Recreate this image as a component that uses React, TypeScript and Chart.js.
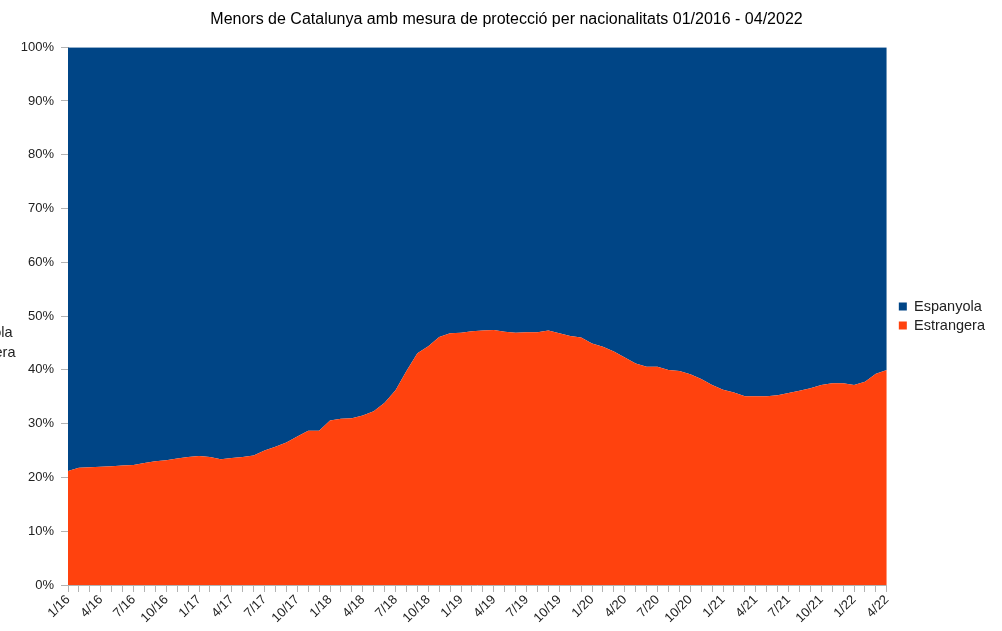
import React, { useEffect, useRef } from 'react';
import { Chart, registerables } from 'chart.js';

Chart.register(...registerables);

const chartTitle = 'Menors de Catalunya amb mesura de protecció per nacionalitats 01/2016 - 04/2022';

const categories = [
  '1/16', '2/16', '3/16', '4/16', '5/16', '6/16', '7/16', '8/16', '9/16', '10/16', '11/16', '12/16',
  '1/17', '2/17', '3/17', '4/17', '5/17', '6/17', '7/17', '8/17', '9/17', '10/17', '11/17', '12/17',
  '1/18', '2/18', '3/18', '4/18', '5/18', '6/18', '7/18', '8/18', '9/18', '10/18', '11/18', '12/18',
  '1/19', '2/19', '3/19', '4/19', '5/19', '6/19', '7/19', '8/19', '9/19', '10/19', '11/19', '12/19',
  '1/20', '2/20', '3/20', '4/20', '5/20', '6/20', '7/20', '8/20', '9/20', '10/20', '11/20', '12/20',
  '1/21', '2/21', '3/21', '4/21', '5/21', '6/21', '7/21', '8/21', '9/21', '10/21', '11/21', '12/21',
  '1/22', '2/22', '3/22', '4/22',
];

const seriesNames = ['Espanyola', 'Estrangera'];

// Share (%) of minors with foreign nationality
const estrangera = [
  21.2, 21.8, 21.9, 22.0, 22.1, 22.2, 22.3, 22.7, 23.0, 23.2, 23.5, 23.8,
  24.0, 23.8, 23.4, 23.6, 23.8, 24.1, 25.0, 25.7, 26.5, 27.6, 28.7, 28.7,
  30.6, 30.9, 31.0, 31.5, 32.3, 33.9, 36.2, 39.8, 43.1, 44.4, 46.1, 46.8,
  46.9, 47.2, 47.3, 47.4, 47.1, 46.9, 47.0, 47.0, 47.3, 46.8, 46.3, 46.0,
  44.9, 44.3, 43.4, 42.3, 41.2, 40.6, 40.6, 40.0, 39.8, 39.2, 38.3, 37.2,
  36.3, 35.8, 35.1, 35.1, 35.1, 35.3, 35.7, 36.1, 36.6, 37.2, 37.5, 37.5,
  37.2, 37.8, 39.3, 40.0,
];

// Share (%) of minors with Spanish nationality
const espanyola = [
  78.8, 78.2, 78.1, 78.0, 77.9, 77.8, 77.7, 77.3, 77.0, 76.8, 76.5, 76.2,
  76.0, 76.2, 76.6, 76.4, 76.2, 75.9, 75.0, 74.3, 73.5, 72.4, 71.3, 71.3,
  69.4, 69.1, 69.0, 68.5, 67.7, 66.1, 63.8, 60.2, 56.9, 55.6, 53.9, 53.2,
  53.1, 52.8, 52.7, 52.6, 52.9, 53.1, 53.0, 53.0, 52.7, 53.2, 53.7, 54.0,
  55.1, 55.7, 56.6, 57.7, 58.8, 59.4, 59.4, 60.0, 60.2, 60.8, 61.7, 62.8,
  63.7, 64.2, 64.9, 64.9, 64.9, 64.7, 64.3, 63.9, 63.4, 62.8, 62.5, 62.5,
  62.8, 62.2, 60.7, 60.0,
];

const yMin = 0;
const yMax = 100;
const yStep = 10;

const FONT = '"Liberation Sans", Arial, sans-serif';
const BLUE = '#004586';
const ORANGE = '#ff420e';
const AXIS_GRAY = '#b3b3b3';
const TEXT = '#222222';
const LEGEND_SIZE = 14.5;

// Clipped duplicate of the legend text visible at the very left edge of the reference
const ghostLegend = {
  id: 'ghostLegend',
  afterDraw(chart: any) {
    const ctx = chart.ctx as CanvasRenderingContext2D;
    ctx.save();
    ctx.font = `${LEGEND_SIZE}px ${FONT}`;
    ctx.fillStyle = TEXT;
    ctx.textAlign = 'right';
    ctx.textBaseline = 'alphabetic';
    ctx.fillText(seriesNames[0], 12.5, 337);
    ctx.fillText(seriesNames[1], 15.5, 357);
    ctx.restore();
  },
};

export default function App() {
  const canvasRef = useRef<HTMLCanvasElement | null>(null);

  useEffect(() => {
    if (!canvasRef.current) return;
    const chart = new Chart(canvasRef.current, {
      type: 'line',
      data: {
        labels: categories,
        datasets: [
          {
            label: seriesNames[1],
            data: estrangera,
            backgroundColor: ORANGE,
            borderColor: ORANGE,
            borderWidth: 0,
            fill: 'origin',
            pointRadius: 0,
            tension: 0,
          },
          {
            label: seriesNames[0],
            data: espanyola,
            backgroundColor: BLUE,
            borderColor: BLUE,
            borderWidth: 0,
            fill: '-1',
            pointRadius: 0,
            tension: 0,
          },
        ],
      },
      options: {
        animation: false,
        responsive: false,
        maintainAspectRatio: false,
        layout: { padding: { left: 18, right: 7, top: 0, bottom: 0 } },
        plugins: {
          title: {
            display: true,
            text: chartTitle,
            color: '#000000',
            font: { family: FONT, size: 16, weight: 'normal' },
            padding: { top: 10, bottom: 18 },
          },
          legend: {
            display: true,
            position: 'right',
            fullSize: false,
            reverse: true,
            labels: {
              boxWidth: 8,
              boxHeight: 8,
              padding: 4.5,
              color: TEXT,
              font: { family: FONT, size: LEGEND_SIZE },
            },
          },
          tooltip: { enabled: false },
        },
        scales: {
          x: {
            type: 'category',
            offset: false,
            grid: {
              display: true,
              drawOnChartArea: false,
              drawTicks: true,
              tickLength: 7,
              color: AXIS_GRAY,
            },
            border: { display: true, color: AXIS_GRAY },
            ticks: {
              autoSkip: false,
              minRotation: 45,
              maxRotation: 45,
              padding: 0,
              color: TEXT,
              font: { family: FONT, size: 13 },
              callback: (_v: any, idx: number) => (idx % 3 === 0 ? categories[idx] : ''),
            },
            afterFit: (s: any) => {
              s.height = 46;
            },
          },
          y: {
            type: 'linear',
            stacked: true,
            min: yMin,
            max: yMax,
            grid: {
              display: true,
              drawOnChartArea: false,
              drawTicks: true,
              tickLength: 7,
              color: AXIS_GRAY,
            },
            border: { display: true, color: AXIS_GRAY },
            ticks: {
              stepSize: yStep,
              padding: 7,
              color: TEXT,
              font: { family: FONT, size: 13 },
              callback: (v: any) => `${v}%`,
            },
            afterFit: (s: any) => {
              s.width = 50;
            },
          },
          gap: {
            type: 'linear',
            position: 'right',
            display: true,
            grid: { display: false },
            border: { display: false },
            ticks: { display: false },
            afterFit: (s: any) => {
              s.width = 7.5;
            },
          },
        },
      },
      plugins: [ghostLegend],
    } as any);
    return () => chart.destroy();
  }, []);

  return (
    <div style={{ position: 'absolute', left: 0, top: 0, width: 1002, height: 631, background: '#ffffff' }}>
      <canvas ref={canvasRef} width={1002} height={631} style={{ display: 'block' }} />
    </div>
  );
}
